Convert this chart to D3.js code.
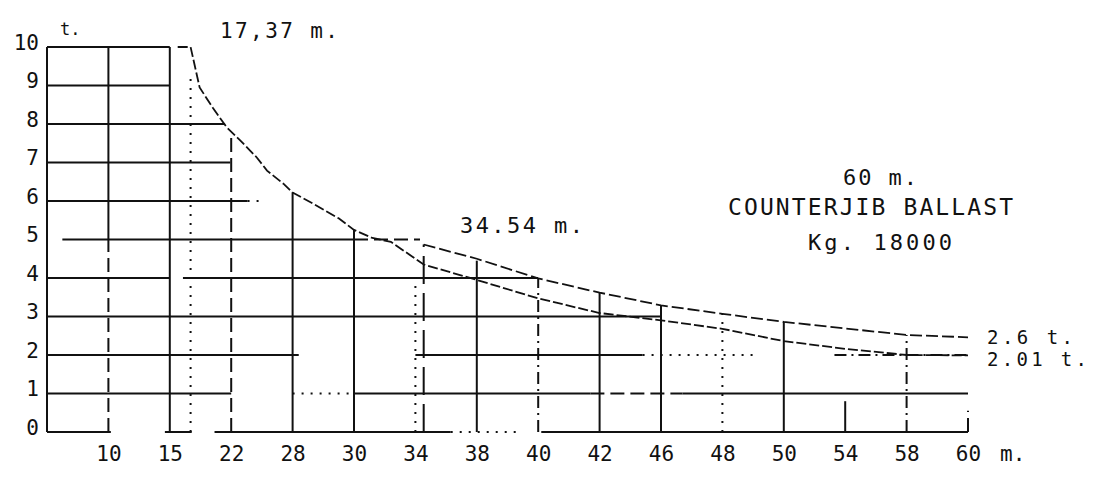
<!DOCTYPE html>
<html>
<head>
<meta charset="utf-8">
<script src="https://cdn.jsdelivr.net/npm/d3@7"></script>
<style>
  body { margin: 0; background: #fff; }
  text { font-family: "DejaVu Sans Mono", "Liberation Mono", monospace; fill: #111; }
</style>
</head>
<body>
<div id="chart-area"></div>
<script>
// crane load chart - 60 m jib, counterjib ballast 18000 kg

// tick values
const radiusTicks = [10, 15, 22, 28, 30, 34, 38, 40, 42, 46, 48, 50, 54, 58, 60];
const loadTicks = [0, 1, 2, 3, 4, 5, 6, 7, 8, 9, 10];

// load curve (m, t) - continues as the 2.01 t branch after 34.54 m
const mainRadius = [15.9, 17.37, 18.4, 19.9, 21.5, 22.9, 24.5, 25.5, 27.1, 28, 28.65, 29.5, 30, 31.2, 32.4, 34.54, 38, 40, 42, 46, 48, 50, 54, 58, 60];
const mainLoad = [10, 10, 8.95, 8.42, 7.91, 7.57, 7.13, 6.79, 6.45, 6.22, 5.94, 5.55, 5.25, 5.04, 4.94, 4.35, 3.95, 3.47, 3.09, 2.90, 2.68, 2.36, 2.16, 2.0, 1.99];

// 2.6 t branch starting at 34.54 m
const upperRadius = [34.54, 38, 40, 42, 46, 48, 50, 54, 58, 60];
const upperLoad = [4.87, 4.50, 3.99, 3.62, 3.29, 3.07, 2.86, 2.69, 2.52, 2.46];

// vertical grid segments: radius, from load, to load
const vRadius = [0, 10, 10, 15, 17.37, 22, 28, 30, 34, 34.54, 38, 40, 42, 46, 48, 50, 54, 58, 60];
const vFrom = [0, 5, 0, 0, 0, 0, 0, 0, 0, 0, 0, 0, 0, 0, 0, 0, 0, 0, 0];
const vTo = [10, 10, 5, 10, 9.2, 7.65, 6.22, 5.25, 4.2, 4.87, 4.45, 3.99, 3.62, 3.29, 3.07, 2.86, 0.8, 2.52, 0.55];

// horizontal grid segments: load, from radius, to radius
const hLoad = [10, 9, 8, 7, 6, 6, 5, 5, 4, 4, 3, 2, 2, 2, 2, 1, 1, 1, 1, 1, 0, 0, 0, 0, 0];
const hFrom = [0, 0, 0, 0, 0, 23.6, 2.5, 30, 0, 16.5, 0, 0, 34, 44.8, 53.3, 0, 28, 30, 41.7, 46.7, 0, 14.6, 20.1, 36.3, 40.1];
const hTo = [15, 15, 21.3, 21.9, 23.6, 25.2, 30, 34.3, 15, 40, 46, 28.2, 44.8, 49.2, 60, 22, 30, 41.7, 46.7, 60, 10.2, 17.5, 36.3, 39.4, 60];

// line styles (kept apart from the data)
const vStyle = ["solid", "solid", "dashed", "solid", "dotted", "dashed", "solid", "solid", "dotted", "longdash", "solid", "dashdot", "solid", "solid", "dotted", "solid", "solid", "dashdot", "dashed"];
const hStyle = ["solid", "solid", "solid", "solid", "solid", "dotted", "solid", "dashed", "solid", "solid", "solid", "solid", "solid", "dotted", "dashdot", "solid", "dotted", "solid", "dashed", "solid", "solid", "solid", "solid", "dotted", "solid"];
const dashes = { solid: null, dashed: "14,6", longdash: "28,9", dotted: "2,7", dashdot: "12,5,2,5" };

// graph area
const canvas = { width: 1095, height: 477 };
const plot = { left: 47, right: 968, top: 47, bottom: 432 };

const svg = d3.select("#chart-area").append("svg").attr("width", canvas.width).attr("height", canvas.height);

// every tick label is one step apart, whatever its value
const radiusDomain = [0].concat(radiusTicks);
const step = (plot.right - plot.left) / radiusTicks.length;
const x = d3.scaleLinear().domain(radiusDomain).range(radiusDomain.map((d, i) => plot.left + i * step));
const y = d3.scaleLinear().domain([0, 10]).range([plot.bottom, plot.top]);

// grid
svg.append("g").selectAll("line").data(d3.range(hLoad.length)).join("line")
    .attr("x1", i => x(hFrom[i])).attr("x2", i => x(hTo[i]))
    .attr("y1", i => y(hLoad[i])).attr("y2", i => y(hLoad[i]))
    .attr("stroke", "#111").attr("stroke-width", 2)
    .attr("stroke-dasharray", i => dashes[hStyle[i]]);

svg.append("g").selectAll("line").data(d3.range(vRadius.length)).join("line")
    .attr("x1", i => x(vRadius[i])).attr("x2", i => x(vRadius[i]))
    .attr("y1", i => y(vFrom[i])).attr("y2", i => y(vTo[i]))
    .attr("stroke", "#111").attr("stroke-width", 2)
    .attr("stroke-dasharray", i => dashes[vStyle[i]]);

// load curves
const line = d3.line().x(d => x(d[0])).y(d => y(d[1]));

svg.append("path").datum(d3.zip(mainRadius, mainLoad))
    .attr("d", line).attr("fill", "none").attr("stroke", "#111").attr("stroke-width", 1.8)
    .attr("stroke-dasharray", "10,3");

svg.append("path").datum(d3.zip(upperRadius, upperLoad))
    .attr("d", line).attr("fill", "none").attr("stroke", "#111").attr("stroke-width", 1.8)
    .attr("stroke-dasharray", "12,4");

// axes
const xAxisCall = d3.axisBottom(x).tickValues(radiusTicks).tickSize(0).tickPadding(14).tickFormat(d3.format("d"));
const xAxis = svg.append("g").attr("transform", "translate(0," + plot.bottom + ")").call(xAxisCall)
    .attr("font-size", 21);
xAxis.select(".domain").remove();

const yAxisCall = d3.axisLeft(y).tickValues(loadTicks).tickSize(0).tickPadding(8).tickFormat(d3.format("d"));
const yAxis = svg.append("g").attr("transform", "translate(" + plot.left + ",0)").call(yAxisCall)
    .attr("font-size", 21);
yAxis.select(".domain").remove();
yAxis.selectAll("text").attr("dy", "0.1em");

// labels
svg.append("text").attr("x", 1000).attr("y", 461).attr("font-size", 21).text("m.");
svg.append("text").attr("x", 60).attr("y", 35).attr("font-size", 17).text("t.");

const note = (txt, xPos, yPos, size, len) => svg.append("text")
    .attr("x", xPos).attr("y", yPos).attr("font-size", size)
    .attr("textLength", len).attr("lengthAdjust", "spacing").text(txt);

note("17,37 m.", 220, 38, 21, 118);
note("34.54 m.", 460, 233, 22, 123);
note("60 m.", 843, 185, 22, 74);
note("COUNTERJIB BALLAST", 728, 215, 23, 285);
note("Kg. 18000", 808, 250, 22, 144);

const upperEnd = upperLoad[upperLoad.length - 1], mainEnd = mainLoad[mainLoad.length - 1];
note("2.6 t.", 987, y(upperEnd) + 7, 19, 86);
note("2.01 t.", 987, y(mainEnd) + 11, 19, 100);
</script>
</body>
</html>
